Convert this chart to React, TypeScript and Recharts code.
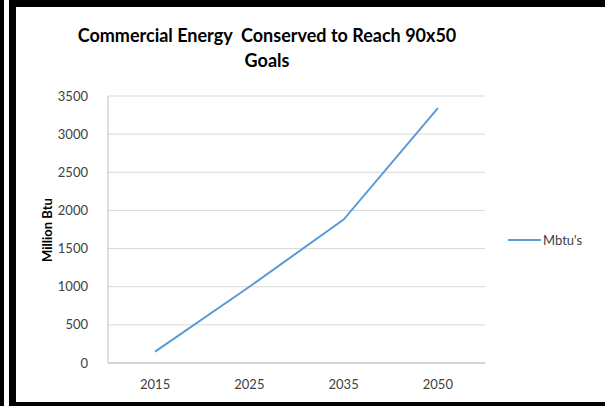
import { LineChart, Line, XAxis, YAxis, CartesianGrid } from "recharts";

const years = ["2015", "2025", "2035", "2050"];
const mbtu = [150, 1000, 1880, 3340];
const yTicks = [0, 500, 1000, 1500, 2000, 2500, 3000, 3500];
const seriesName = "Mbtu's";

const data = years.map((y, i) => ({ year: y, mbtu: mbtu[i] }));

const font = "Lato, 'Open Sans', sans-serif";
const blue = "#5B9BD5";

const bar = (left: number, top: number, width: number, height: number) => (
  <div style={{ position: "absolute", left, top, width, height, background: "#000", zIndex: 2 }} />
);

export default function App() {
  return (
    <div
      style={{
        position: "absolute",
        left: 0,
        top: 0,
        width: 605,
        height: 406,
        background: "#fff",
        overflow: "hidden",
        fontFamily: font,
      }}
    >
      <div
        style={{
          position: "absolute",
          left: 0,
          width: 534,
          top: 23,
          textAlign: "center",
          fontWeight: 700,
          fontSize: 18,
          lineHeight: "25px",
          color: "#000",
          whiteSpace: "pre",
        }}
      >
        {"Commercial Energy  Conserved to Reach 90x50\nGoals"}
      </div>

      <div
        style={{
          position: "absolute",
          left: 47,
          top: 230,
          transform: "translate(-50%, -50%) rotate(-90deg)",
          fontWeight: 700,
          fontSize: 13,
          color: "#000",
          whiteSpace: "nowrap",
        }}
      >
        Million Btu
      </div>

      <div style={{ position: "absolute", left: 508, top: 232, display: "flex", alignItems: "center" }}>
        <div style={{ width: 33, height: 2, background: blue }} />
        <span style={{ fontSize: 13, color: "#404040", marginLeft: 2 }}>{seriesName}</span>
      </div>

      <div style={{ position: "absolute", left: 0, top: 0 }}>
        <LineChart width={605} height={406} data={data} margin={{ top: 96, right: 120, bottom: 0, left: 0 }}>
          <CartesianGrid vertical={false} stroke="#d9d9d9" />
          <XAxis
            dataKey="year"
            scale="band"
            height={43}
            axisLine={{ stroke: "#bfbfbf" }}
            tickLine={false}
            tickMargin={11}
            tick={{ fill: "#404040", fontSize: 13, fontFamily: font }}
          />
          <YAxis
            width={108}
            domain={[0, 3500]}
            ticks={yTicks}
            axisLine={{ stroke: "#bfbfbf" }}
            tickLine={false}
            tickMargin={14}
            tick={{ fill: "#404040", fontSize: 13, fontFamily: font }}
          />
          <Line
            dataKey="mbtu"
            name={seriesName}
            stroke={blue}
            strokeWidth={2}
            dot={false}
            isAnimationActive={false}
          />
        </LineChart>
      </div>

      {/* scanned frame */}
      {bar(0, 0, 4, 406)}
      {bar(9, 0, 7, 406)}
      {bar(9, 0, 596, 7)}
      {bar(9, 402, 596, 4)}
    </div>
  );
}
